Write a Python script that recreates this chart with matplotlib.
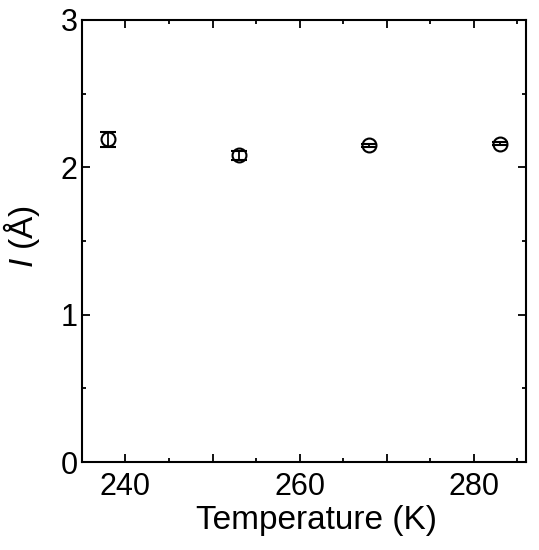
import matplotlib
matplotlib.use('Agg')
import matplotlib.pyplot as plt
from matplotlib.ticker import MultipleLocator, FuncFormatter

plt.rcParams['font.family'] = ['Liberation Sans', 'DejaVu Sans']
plt.rcParams['mathtext.fontset'] = 'custom'
plt.rcParams['mathtext.it'] = 'Liberation Sans:italic'
plt.rcParams['mathtext.rm'] = 'Liberation Sans'

# data
temperature = [238, 253, 268, 283]
length = [2.19, 2.08, 2.15, 2.16]
length_err = [0.05, 0.03, 0.01, 0.01]

fig = plt.figure(figsize=(5.39, 5.5), dpi=100)
ax = fig.add_axes([0.152, 0.16, 0.824, 0.804])

ax.errorbar(temperature, length, yerr=length_err, fmt='o', mfc='none', mec='black',
            ms=10, mew=1.5, ecolor='black', elinewidth=1.3, capsize=5.8, capthick=1.3)

ax.set_xlim(235, 286)
ax.set_ylim(0, 3)
ax.xaxis.set_major_locator(MultipleLocator(10))
ax.xaxis.set_minor_locator(MultipleLocator(5))
# labels only every 20 K
ax.xaxis.set_major_formatter(FuncFormatter(lambda v, p: '%d' % v if round(v) % 20 == 0 else ''))
ax.yaxis.set_major_locator(MultipleLocator(1))
ax.yaxis.set_minor_locator(MultipleLocator(0.5))

ax.tick_params(which='both', direction='in', top=True, right=True, width=1.3, labelsize=22)
ax.tick_params(which='major', length=6)
ax.tick_params(which='minor', length=3)
ax.tick_params(axis='x', pad=7)
ax.tick_params(axis='y', pad=3)

for s in ax.spines.values():
    s.set_linewidth(1.5)

ax.set_xlabel('Temperature (K)', fontsize=24)
ax.xaxis.set_label_coords(0.528, -0.098)
ax.set_ylabel(r'$\mathit{I}$ (Å)', fontsize=24)
ax.yaxis.set_label_coords(-0.09, 0.51)

fig.savefig('out.png', dpi=100)
